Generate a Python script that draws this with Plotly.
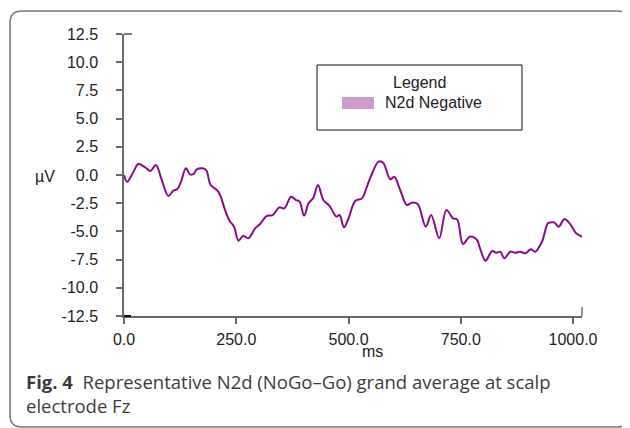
"""N2d (NoGo-Go) grand average at Fz, redrawn with Plotly."""

import plotly.graph_objects as go

# the page body has an 8px margin, so the figure is drawn 8px smaller and
# every pixel position below is measured on the 630x428 screenshot
OFF = 8
W, H = 630 - OFF, 428 - OFF
PX_L, PX_R, PX_T, PX_B = 124, 582, 34, 316

LINE = "#8b0a8b"
SWATCH = "#cc9ccc"
AXIS = "#6a6a6a"
TEXT = "#222222"
CAPTION = "#3c3c3c"

# data (ms, microvolts)
ms = [0, 7, 20, 32, 47, 59, 71, 84, 99, 110, 119, 127, 138, 147, 155, 162,
      175, 183, 193, 207, 214, 225, 235, 245, 255, 265, 277, 292, 303, 318,
      331, 346, 357, 372, 383, 391, 401, 411, 421, 432, 444, 458, 473, 480,
      490, 500, 515, 530, 541, 552, 567, 577, 593, 602, 615, 630, 641, 654,
      672, 684, 702, 718, 733, 742, 755, 770, 785, 793, 805, 820, 829, 838,
      847, 860, 871, 883, 894, 906, 916, 931, 944, 951, 958, 968, 981, 994,
      1007, 1020]
uv = [0.0, -0.6, 0.2, 0.98, 0.68, 0.35, 0.89, -0.44, -1.86, -1.39, -1.24,
      -0.59, 0.59, 0.06, 0.09, 0.5, 0.59, 0.44, -0.89, -1.33, -1.77, -3.1,
      -4.05, -4.58, -5.82, -5.4, -5.6, -4.73, -4.34, -3.63, -3.55, -2.87,
      -2.96, -1.92, -2.22, -2.36, -3.6, -2.51, -2.07, -0.89, -2.22, -2.75,
      -3.69, -3.55, -4.64, -3.84, -2.3, -2.07, -1.04, 0.09, 1.18, 1.09,
      -0.38, -0.15, -1.33, -2.66, -2.45, -2.57, -4.58, -3.55, -5.6, -3.1,
      -3.84, -3.93, -6.12, -5.47, -5.7, -6.5, -7.6, -6.74, -6.89, -6.8,
      -7.39, -6.8, -6.89, -6.8, -6.94, -6.59, -6.8, -5.9, -4.28, -4.2,
      -4.2, -4.58, -3.9, -4.37, -5.17, -5.47]

x_ticks = [0, 250, 500, 750, 1000]
x_labels = ["0.0", "250.0", "500.0", "750.0", "1000.0"]
y_ticks = [12.5, 10.0, 7.5, 5.0, 2.5, 0.0, -2.5, -5.0, -7.5, -10.0, -12.5]
y_labels = ["12.5", "10.0", "7.5", "5.0", "2.5", "0.0", "-2.5", "-5.0",
            "-7.5", "-10.0", "-12.5"]
x_range = [0, 1020]
y_range = [-12.5, 12.5]


def px(x):
    return (x - PX_L) / (PX_R - PX_L)


def py(y):
    return (PX_B - y) / (PX_B - PX_T)


fig = go.Figure()
fig.add_trace(go.Scatter(x=ms, y=uv, mode="lines", line_shape="spline",
                         line=dict(color=LINE, width=2), showlegend=False,
                         hoverinfo="skip"))

shapes = []
# outer rounded frame
r = 12
x0, x1, y0, y1 = 10, 629, 11, 427
path = (f"M{px(x0)},{py(y0 + r)} Q{px(x0)},{py(y0)} {px(x0 + r)},{py(y0)} "
        f"L{px(x1 - r)},{py(y0)} Q{px(x1)},{py(y0)} {px(x1)},{py(y0 + r)} "
        f"L{px(x1)},{py(y1 - r)} Q{px(x1)},{py(y1)} {px(x1 - r)},{py(y1)} "
        f"L{px(x0 + r)},{py(y1)} Q{px(x0)},{py(y1)} {px(x0)},{py(y1 - r)} Z")
shapes.append(dict(type="path", xref="paper", yref="paper", path=path,
                   line=dict(color="#777777", width=1.5)))
# small extra ticks the original draws at the axis ends
shapes.append(dict(type="line", xref="paper", yref="paper",
                   x0=px(124), x1=px(132), y0=py(34), y1=py(34),
                   line=dict(color=TEXT, width=1.2)))
shapes.append(dict(type="line", xref="paper", yref="paper",
                   x0=px(124), x1=px(131), y0=py(316), y1=py(316),
                   line=dict(color="#111111", width=2)))
shapes.append(dict(type="line", xref="paper", yref="paper",
                   x0=px(582), x1=px(582), y0=py(307), y1=py(316),
                   line=dict(color=AXIS, width=1.5)))
# legend box
shapes.append(dict(type="rect", xref="paper", yref="paper",
                   x0=px(317), x1=px(522), y0=py(65), y1=py(130),
                   line=dict(color="#111111", width=1), fillcolor="white"))
shapes.append(dict(type="rect", xref="paper", yref="paper",
                   x0=px(342), x1=px(374), y0=py(97), y1=py(109),
                   line=dict(color=SWATCH, width=0), fillcolor=SWATCH))

font = dict(family="Liberation Sans, Arial, sans-serif", size=16, color=TEXT)
cap_font = dict(family="Open Sans, Noto Sans, sans-serif", size=18.5,
                color=CAPTION)
annotations = [
    dict(text="Legend", x=px(419), y=py(82), xref="paper", yref="paper",
         showarrow=False, font=font, xanchor="center", yanchor="middle"),
    dict(text="N2d Negative", x=px(383), y=py(103), xref="paper",
         yref="paper", showarrow=False, font=font, xanchor="left",
         yanchor="middle"),
    dict(text="µV", x=px(57), y=py(176), xref="paper", yref="paper",
         showarrow=False, font=font, xanchor="right", yanchor="middle"),
    dict(text="ms", x=px(372), y=py(351), xref="paper", yref="paper",
         showarrow=False, font=font, xanchor="center", yanchor="middle"),
    dict(text="<b>Fig. 4</b>  Representative N2d (NoGo–Go) grand average "
              "at scalp<br>electrode Fz",
         x=px(24), y=py(367), xref="paper", yref="paper", showarrow=False,
         font=cap_font, xanchor="left", yanchor="top", align="left"),
]

fig.update_layout(
    width=W, height=H, template="plotly_white",
    paper_bgcolor="white", plot_bgcolor="white",
    margin=dict(l=PX_L - OFF, r=630 - PX_R, t=PX_T - OFF, b=428 - PX_B,
                pad=0),
    font=font, shapes=shapes, annotations=annotations,
    xaxis=dict(range=x_range, tickvals=x_ticks, ticktext=x_labels,
               showgrid=False, zeroline=False, showline=True,
               linecolor=AXIS, linewidth=1.5, ticks="outside", ticklen=6,
               tickcolor=AXIS, tickwidth=1.5, ticklabelstandoff=2),
    yaxis=dict(range=y_range, tickvals=y_ticks, ticktext=y_labels,
               showgrid=False, zeroline=False, showline=True,
               linecolor=AXIS, linewidth=1.5, ticks="outside", ticklen=6,
               tickcolor=AXIS, tickwidth=1.5, ticklabelstandoff=15),
)

fig.write_html("out.html")
